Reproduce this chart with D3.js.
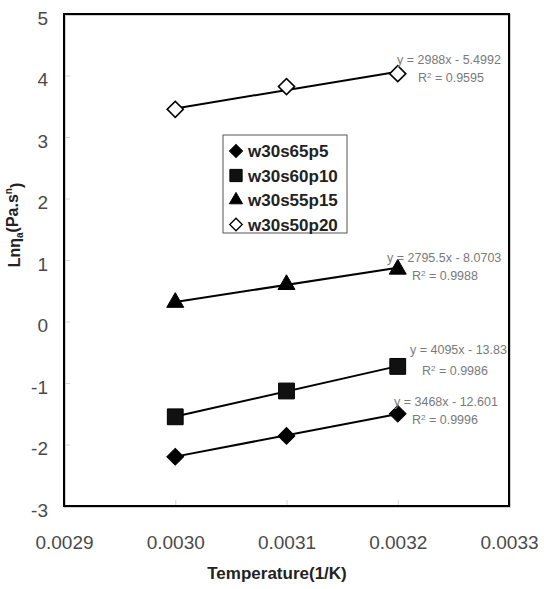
<!DOCTYPE html>
<html>
<head>
<meta charset="utf-8">
<script src="https://cdn.jsdelivr.net/npm/d3@7"></script>
<style>
  html, body { margin: 0; padding: 0; background: #fff; }
  svg { display: block; font-family: "Liberation Sans", Arial, sans-serif; }
</style>
</head>
<body>
<svg id="chart" width="544" height="589"></svg>
<script>
// Inverse temperature (1/K) at which viscosity was measured
const invTemp = [0.0030, 0.0031, 0.0032];

// Series names and ln(apparent viscosity) values
const seriesNames = ["w30s65p5", "w30s60p10", "w30s55p15", "w30s50p20"];
const lnEtaW30s65p5  = [-2.20, -1.86, -1.50];
const lnEtaW30s60p10 = [-1.55, -1.13, -0.73];
const lnEtaW30s55p15 = [0.31, 0.60, 0.85];
const lnEtaW30s50p20 = [3.45, 3.82, 4.03];

// Linear trendline fits (slope, intercept, R²)
const fitSlopes     = [3468, 4095, 2795.5, 2988];
const fitIntercepts = [-12.601, -13.83, -8.0703, -5.4992];
const fitEquations  = ["y = 3468x - 12.601", "y = 4095x - 13.83", "y = 2795.5x - 8.0703", "y = 2988x - 5.4992"];
const fitR2         = ["0.9996", "0.9986", "0.9988", "0.9595"];

// Axis ticks
const xTicks = [0.0029, 0.0030, 0.0031, 0.0032, 0.0033];
const yTicks = [-3, -2, -1, 0, 1, 2, 3, 4, 5];

const allValues = [lnEtaW30s65p5, lnEtaW30s60p10, lnEtaW30s55p15, lnEtaW30s50p20];

const svg = d3.select("#chart");
const plot = { left: 64, right: 509, top: 14, bottom: 506 };

const x = d3.scaleLinear().domain([0.0029, 0.0033]).range([plot.left, plot.right]);
const y = d3.scaleLinear().domain([-3, 5]).range([plot.bottom, plot.top]);

// faint inner tick marks
svg.append("g")
  .attr("transform", `translate(0,${plot.bottom})`)
  .call(d3.axisTop(x).tickValues(xTicks.slice(1, -1)).tickSize(6).tickFormat(""))
  .call(g => g.select(".domain").remove())
  .call(g => g.selectAll("line").attr("stroke", "#d4d4d4"));
svg.append("g")
  .attr("transform", `translate(${plot.left},0)`)
  .call(d3.axisRight(y).tickValues(yTicks.slice(1, -1)).tickSize(6).tickFormat(""))
  .call(g => g.select(".domain").remove())
  .call(g => g.selectAll("line").attr("stroke", "#d4d4d4"));

// x tick labels
svg.append("g")
  .attr("transform", `translate(0,${plot.bottom})`)
  .call(d3.axisBottom(x).tickValues(xTicks).tickSize(0).tickPadding(0).tickFormat(d => d.toFixed(4)))
  .call(g => g.select(".domain").remove())
  .call(g => g.selectAll("text")
    .attr("y", 36).attr("dy", "0.35em")
    .attr("fill", "#4a4a4a").attr("font-size", 19)
    .attr("font-family", "'Liberation Sans', Arial, sans-serif"));

// y tick labels (plain hyphen for negatives)
svg.append("g")
  .attr("transform", `translate(${plot.left},0)`)
  .call(d3.axisLeft(y).tickValues(yTicks).tickSize(0).tickPadding(16).tickFormat(d => String(d)))
  .call(g => g.select(".domain").remove())
  .call(g => g.selectAll("text")
    .attr("dy", "0.55em")
    .attr("fill", "#4a4a4a").attr("font-size", 19)
    .attr("font-family", "'Liberation Sans', Arial, sans-serif"));

// plot frame with a soft shadow edge
svg.append("rect")
  .attr("x", plot.left + 1).attr("y", plot.top + 1)
  .attr("width", plot.right - plot.left).attr("height", plot.bottom - plot.top)
  .attr("fill", "none").attr("stroke", "#cfcfcf").attr("stroke-width", 2);
svg.append("rect")
  .attr("x", plot.left).attr("y", plot.top)
  .attr("width", plot.right - plot.left).attr("height", plot.bottom - plot.top)
  .attr("fill", "none").attr("stroke", "#000").attr("stroke-width", 2);

// marker symbols per series; diamonds are squares turned 45°
const symbols = [
  { type: d3.symbolSquare, size: 140, fill: "#000", rot: 45 },
  { type: d3.symbolSquare, size: 250, fill: "#111", rot: 0 },
  { type: d3.symbolTriangle, size: 125, fill: "#000", rot: 0 },
  { type: d3.symbolSquare, size: 130, fill: "#fff", rot: 45 }
];

// trendlines across the measured range
const xMin = d3.min(invTemp), xMax = d3.max(invTemp);
fitSlopes.forEach((m, i) => {
  const b = fitIntercepts[i];
  svg.append("line")
    .attr("x1", x(xMin)).attr("y1", y(m * xMin + b))
    .attr("x2", x(xMax)).attr("y2", y(m * xMax + b))
    .attr("stroke", "#000").attr("stroke-width", 2);
});

// data markers
allValues.forEach((vals, i) => {
  const s = symbols[i];
  svg.append("g").selectAll("path")
    .data(vals.map((v, j) => [invTemp[j], v]))
    .join("path")
    .attr("transform", d => `translate(${x(d[0])},${y(d[1])}) rotate(${s.rot})`)
    .attr("d", d3.symbol().type(s.type).size(s.size))
    .attr("fill", s.fill)
    .attr("stroke", "#000")
    .attr("stroke-width", i === 3 ? 1.6 : 1);
});

// trendline equations
const eqPos = [
  { ex: 394, ey: 402, rx: 412, ry: 420 },
  { ex: 410, ey: 350, rx: 422, ry: 371 },
  { ex: 387, ey: 258, rx: 412, ry: 276 },
  { ex: 397, ey: 60,  rx: 418, ry: 78 }
];
const eqG = svg.append("g").attr("fill", "#7a7a7a").attr("font-size", 12.5);
fitEquations.forEach((eq, i) => {
  const p = eqPos[i];
  eqG.append("text").attr("x", p.ex).attr("y", p.ey).attr("dy", "0.35em").text(eq);
  const r = eqG.append("text").attr("x", p.rx).attr("y", p.ry).attr("dy", "0.35em");
  r.append("tspan").text("R");
  r.append("tspan").attr("font-size", 8).attr("dy", "-0.6em").text("2");
  r.append("tspan").attr("dy", "0.35em").text(" = " + fitR2[i]);
});

// legend
const legend = svg.append("g");
legend.append("rect")
  .attr("x", 223).attr("y", 135).attr("width", 124).attr("height", 98)
  .attr("fill", "#fff").attr("stroke", "#555").attr("stroke-width", 1);
seriesNames.forEach((name, i) => {
  const cy = 151 + i * 24.5;
  const s = symbols[i];
  legend.append("path")
    .attr("transform", `translate(236,${cy}) rotate(${s.rot})`)
    .attr("d", d3.symbol().type(s.type).size(s.size * 0.6))
    .attr("fill", s.fill).attr("stroke", "#000").attr("stroke-width", i === 3 ? 1.3 : 1);
  legend.append("text")
    .attr("x", 248).attr("y", cy).attr("dy", "0.36em")
    .attr("font-size", 17).attr("font-weight", "bold").attr("fill", "#222")
    .text(name);
});

// axis titles
svg.append("text")
  .attr("x", 277).attr("y", 579)
  .attr("text-anchor", "middle")
  .attr("font-size", 17).attr("font-weight", "bold").attr("fill", "#222")
  .text("Temperature(1/K)");

const yTitle = svg.append("text")
  .attr("transform", "translate(20,225) rotate(-90)")
  .attr("text-anchor", "middle")
  .attr("font-size", 16).attr("font-weight", "bold").attr("fill", "#222");
yTitle.append("tspan").text("Lnη");
yTitle.append("tspan").attr("font-size", 10).attr("dy", "0.3em").text("a");
yTitle.append("tspan").attr("dy", "-0.3em").text("(Pa.s");
yTitle.append("tspan").attr("font-size", 10).attr("dy", "-0.6em").text("n");
yTitle.append("tspan").attr("dy", "0.6em").text(")");
</script>
</body>
</html>
